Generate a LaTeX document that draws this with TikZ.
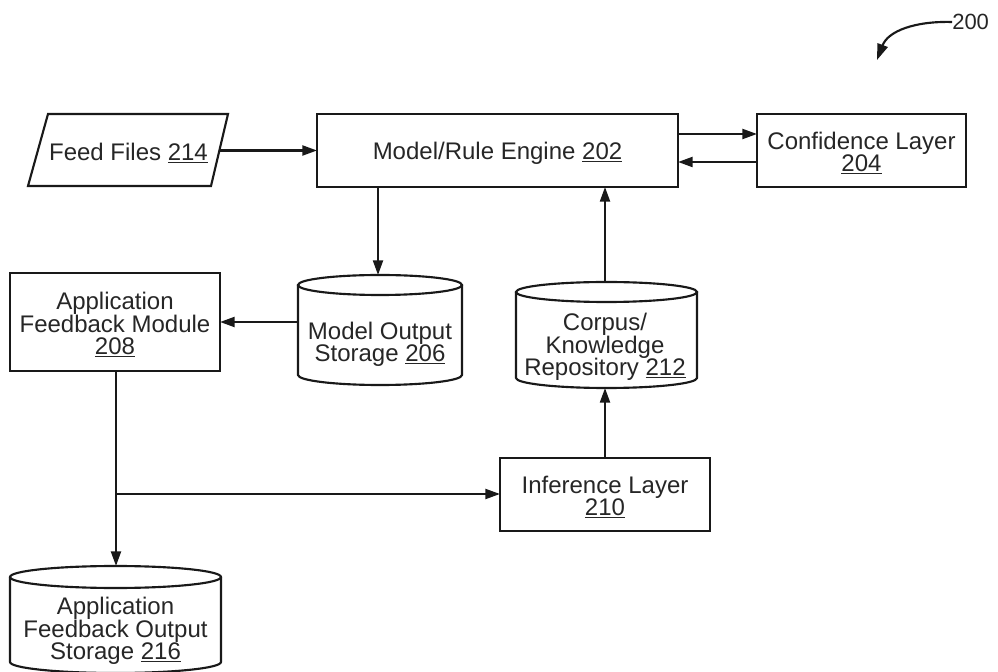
\documentclass[tikz,border=0pt]{standalone}
\usepackage{fontspec}
\setmainfont{Liberation Sans}
\usetikzlibrary{arrows.meta}
\begin{document}
\begin{tikzpicture}[x=0.75pt,y=0.75pt,
  ln/.style={line width=1.6pt,draw=black!90},
  arr/.style={ln,-{Triangle[length=11pt,width=7.5pt]}},
  lbl/.style={align=center,text=black!85,font=\fontsize{18}{16.8}\selectfont,inner sep=0pt}]
\useasboundingbox (0,0) rectangle (998,671);
\clip (0,0) rectangle (998,671);
% Feed Files parallelogram
\draw[ln] (48,557) -- (228,557) -- (211,485) -- (28,485) -- cycle;
\node[lbl] (feed) at (128.5,518) {Feed Files \underline{214}};
\coordinate (feedR) at (219.5,520.5);
% Model/Rule Engine
\draw[ln] (317,484) rectangle (678,557);
\node[lbl] (engine) at (497.5,518) {Model/Rule Engine \underline{202}};
\coordinate (engW) at (317,520.5);
\coordinate (engS1) at (378,484);
\coordinate (engS2) at (605,484);
\coordinate (engE1) at (678,537);
\coordinate (engE2) at (678,509);
% Confidence Layer
\draw[ln] (757,484) rectangle (966,557);
\node[lbl] (conf) at (861.5,518) {Confidence Layer\\\underline{204}};
\coordinate (confW1) at (757,537);
\coordinate (confW2) at (757,509);
% Model Output Storage cylinder
\draw[ln] (298,386) -- (298,296) arc[start angle=180,end angle=360,x radius=82,y radius=10] -- (462,386);
\draw[ln] (380,386) ellipse [x radius=82,y radius=10];
\node[lbl] (mos) at (380,327) {Model Output\\Storage \underline{206}};
\coordinate (mosN) at (378,396);
\coordinate (mosW) at (298,349);
% Corpus cylinder
\draw[ln] (516,379) -- (516,293) arc[start angle=180,end angle=360,x radius=90.5,y radius=10] -- (697,379);
\draw[ln] (606.5,379) ellipse [x radius=90.5,y radius=10];
\node[lbl] (corpus) at (605,324) {Corpus/\\Knowledge\\Repository \underline{212}};
\coordinate (corN) at (605,389);
\coordinate (corS) at (605,283);
% Application Feedback Module
\draw[ln] (10,300) rectangle (220,398);
\node[lbl] (afm) at (115,346) {Application\\Feedback Module\\\underline{208}};
\coordinate (afmE) at (220,349);
\coordinate (afmS) at (116,300);
% Inference Layer
\draw[ln] (500,140) rectangle (710,213);
\node[lbl] (inf) at (605,174) {Inference Layer\\\underline{210}};
\coordinate (infW) at (500,177);
\coordinate (infN) at (605,213);
% Application Feedback Output Storage cylinder
\draw[ln] (10,94) -- (10,9) arc[start angle=180,end angle=360,x radius=105.5,y radius=11] -- (221,94);
\draw[ln] (115.5,94) ellipse [x radius=105.5,y radius=11];
\node[lbl] (afos) at (115.5,40) {Application\\Feedback Output\\Storage \underline{216}};
\coordinate (afosN) at (116,105);
\coordinate (branch) at (116,177);
% Connectors
\draw[arr] (feedR) -- (engW);
\draw[arr] (engE1) -- (confW1);
\draw[arr] (confW2) -- (engE2);
\draw[arr] (engS1) -- (mosN);
\draw[arr] (mosW) -- (afmE);
\draw[arr] (corN) -- (engS2);
\draw[arr] (infN) -- (corS);
\draw[arr] (afmS) -- (afosN);
\draw[arr] (branch) -- (infW);
% 200 label
\node[lbl,font=\fontsize{16.5}{16.5}\selectfont,anchor=west] (ref) at (952,649) {200};
\coordinate (refTip) at (877,611);
\draw[ln,-{Triangle[length=12pt,width=8pt]}] (ref.west) .. controls (915,650) and (888,640) .. (refTip);
\end{tikzpicture}
\end{document}
